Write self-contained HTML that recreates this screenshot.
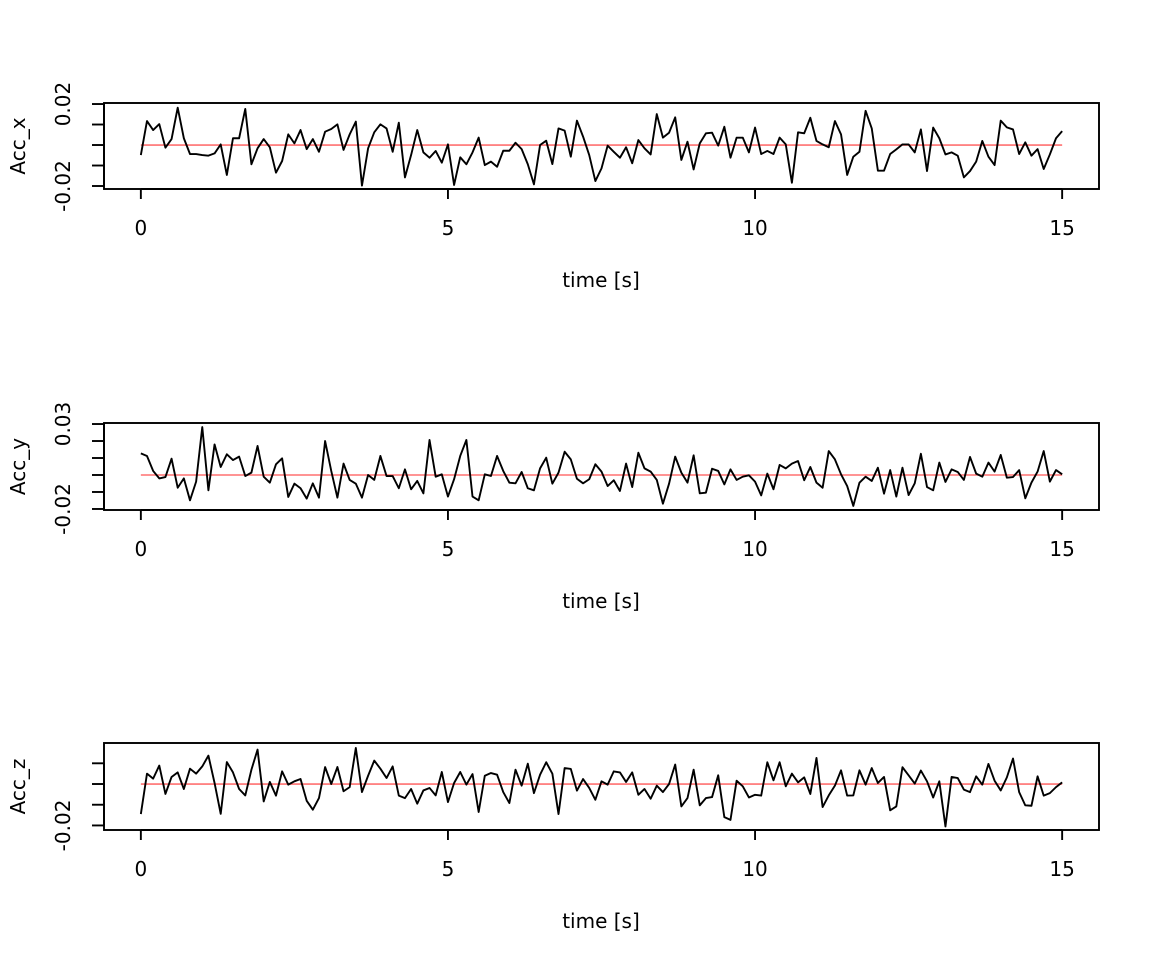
<!DOCTYPE html>
<html><head><meta charset="utf-8"><style>
html,body{margin:0;padding:0;background:#fff;}
svg text{font-family:"DejaVu Sans","Liberation Sans",sans-serif;font-size:20px;fill:#000;}
</style></head><body>
<svg id="chart" width="1152" height="960" viewBox="0 0 1152 960" xmlns="http://www.w3.org/2000/svg"></svg>
<script>
const timeStart = 0, timeStep = 0.1;
const xTicks = [0, 5, 10, 15];
const panelTitles = ["Acc_x", "Acc_y", "Acc_z"];
const refLevels = [0, 0, 0];
const yTicks1 = [0.02, 0.01, 0, -0.01, -0.02];
const yTickLabels1 = ["0.02", "", "", "", "-0.02"];
const yTicks2 = [0.03, 0.02, 0.01, 0, -0.01, -0.02];
const yTickLabels2 = ["0.03", "", "", "", "", "-0.02"];
const yTicks3 = [0.01, 0, -0.01, -0.02];
const yTickLabels3 = ["", "", "", "-0.02"];
const accX = [-4.9,11.7,7.3,10.2,-1.3,2.9,18.2,3.3,-4.4,-4.4,-4.9,-5.2,-4.1,0.3,-14.6,3.3,3.3,17.6,-9.4,-1.6,2.9,-1.1,-13.5,-7.8,5.2,0.8,7.3,-2.0,2.9,-3.3,6.5,7.8,10.1,-2.4,5.2,11.4,-19.8,-1.6,6.2,10.1,8.1,-3.3,10.9,-15.8,-4.9,7.3,-3.6,-6.2,-2.9,-8.6,0.3,-19.5,-6.0,-9.4,-3.6,3.6,-9.8,-8.1,-10.6,-2.8,-2.8,1.1,-2.0,-9.4,-19.2,0,2.1,-9.3,8.1,7.0,-5.7,11.9,4.1,-4.9,-17.6,-11.4,-0.3,-3.3,-6.2,-1.1,-8.9,2.4,-1.6,-4.6,15.1,3.6,6.0,13.5,-7.3,1.6,-11.9,0.8,5.7,6.0,-0.3,8.9,-6.2,3.6,3.6,-3.6,8.5,-4.4,-2.9,-4.4,3.6,0.3,-18.4,6.2,5.7,13.3,2.0,0.3,-1.1,11.7,5.2,-14.6,-5.7,-3.3,16.7,8.1,-12.5,-12.5,-4.4,-2.1,0.3,0.3,-3.6,7.6,-12.7,8.5,3.3,-4.6,-3.6,-5.2,-15.8,-12.7,-8.1,2.0,-5.7,-9.8,11.9,8.6,7.6,-4.4,1.3,-5.2,-2.0,-11.7,-4.6,3.3,6.8].map(v => v / 1000);
const accY = [12.7,11.2,2.4,-2.0,-1.2,9.6,-7.5,-2.0,-14.9,-3.9,28.2,-9.0,18.0,4.7,12.2,8.8,10.8,-0.6,1.4,17.1,-1.0,-4.5,6.3,9.8,-12.9,-5.1,-7.8,-13.9,-4.9,-13.3,20.0,2.4,-13.3,6.7,-2.9,-5.1,-13.3,0,-2.9,11.2,-0.6,-0.6,-7.8,3.3,-8.4,-3.5,-10.8,20.6,-1.0,0.4,-12.7,-2.5,11.2,20.6,-12.7,-14.9,0.4,-0.6,11.2,2.4,-4.5,-4.9,1.8,-7.8,-9.0,3.9,10.2,-5.1,1.4,13.7,9.2,-2.2,-4.9,-2.5,6.3,2.0,-6.5,-3.1,-9.4,6.7,-7.1,13.1,3.9,2.0,-2.9,-16.9,-5.1,10.8,1.4,-4.5,11.6,-10.8,-10.4,3.7,2.4,-5.5,3.3,-2.9,-1.0,-0.2,-3.9,-12.0,0.8,-8.4,5.9,3.9,6.7,8.2,-3.1,4.7,-4.5,-7.5,14.1,9.2,0.4,-6.5,-18.2,-4.5,-1.0,-3.5,4.3,-11.0,2.9,-12.7,4.3,-11.8,-4.9,12.5,-7.1,-9.0,7.3,-4.1,3.3,1.8,-2.9,10.6,0.8,-1.0,7.3,2.0,11.8,-1.6,-1.2,2.9,-13.7,-4.5,2.0,14.1,-3.9,2.9,0.4].map(v => v / 1000);
const accZ = [-14.5,5.0,2.6,8.9,-4.8,3.4,5.6,-2.4,7.4,5.0,8.5,13.7,0.5,-14.4,10.6,5.6,-2.4,-5.5,6.9,16.6,-8.4,1.0,-5.6,6.1,-0.3,1.3,2.4,-8.1,-12.4,-6.8,8.2,0,8.2,-3.5,-1.5,17.4,-3.9,4.0,11.3,7.4,2.9,8.5,-5.6,-6.8,-2.4,-9.5,-3.1,-1.9,-5.5,5.8,-8.7,0.5,5.8,-0.3,4.8,-13.5,4.0,5.3,4.5,-3.9,-9.2,6.9,-0.8,9.8,-4.4,4.5,10.5,5.0,-14.5,7.7,7.3,-3.2,2.4,-1.9,-7.6,1.3,-0.3,6.1,5.6,1.0,5.6,-5.2,-2.4,-7.1,-0.8,-3.9,0,9.4,-10.8,-6.8,6.9,-10.3,-6.8,-6.3,4.2,-16.0,-17.3,1.6,-1.1,-6.5,-5.2,-5.6,10.5,1.8,10.5,-1.1,5.0,0.8,3.2,-4.8,12.6,-11.1,-5.5,-0.8,6.6,-5.6,-5.5,6.6,-0.3,7.7,0.5,3.4,-12.7,-10.8,8.1,4.2,0.2,6.5,1.3,-6.5,1.3,-20.5,3.4,2.9,-2.7,-3.9,3.7,-0.3,9.7,1.6,-3.1,3.2,12.3,-3.9,-10.3,-10.5,3.7,-5.6,-4.4,-1.5,0.8].map(v => v / 1000);

const NS = "http://www.w3.org/2000/svg";
const svg = document.getElementById("chart");
function mk(tag, attrs, parent) {
  const e = document.createElementNS(NS, tag);
  for (const k in attrs) e.setAttribute(k, attrs[k]);
  (parent || svg).appendChild(e);
  return e;
}
const boxL = 104, boxR = 1099;
const xDom = [-0.6, 15.6];
const LW = 1.9;
function xScale(t) { return boxL + (t - xDom[0]) / (xDom[1] - xDom[0]) * (boxR - boxL); }

const panels = [
  {top: 103, bot: 189, dom: [-0.02146, 0.0205], data: accX, ticks: yTicks1, labels: yTickLabels1},
  {top: 423, bot: 510, dom: [-0.0206, 0.0306], data: accY, ticks: yTicks2, labels: yTickLabels2},
  {top: 743, bot: 830, dom: [-0.0222, 0.0198], data: accZ, ticks: yTicks3, labels: yTickLabels3}
];

panels.forEach((p, pi) => {
  const g = mk("g", {});
  
  
  const yScale = v => p.bot - (v - p.dom[0]) / (p.dom[1] - p.dom[0]) * (p.bot - p.top);
  const ref = mk("line", {x1: xScale(timeStart), x2: xScale(timeStart + timeStep * (p.data.length - 1)), y1: yScale(refLevels[pi]), y2: yScale(refLevels[pi]), stroke: "#ff7070", "stroke-width": 1.6}, g);
  
  
  const pts = p.data.map((v, i) => xScale(timeStart + i * timeStep).toFixed(2) + "," + yScale(v).toFixed(2)).join(" ");
  const line = mk("polyline", {points: pts, fill: "none", stroke: "#000", "stroke-width": LW, "stroke-linejoin": "round"}, g);
  
  
  const box = mk("rect", {x: boxL, y: p.top, width: boxR - boxL, height: p.bot - p.top, fill: "none", stroke: "#000", "stroke-width": LW}, g);
  
  
  const xa = mk("g", {}, g);
  
  
  mk("line", {x1: xScale(xTicks[0]), x2: xScale(xTicks[xTicks.length - 1]), y1: p.bot, y2: p.bot, stroke: "#000", "stroke-width": LW}, xa);
  xTicks.forEach(t => {
    mk("line", {x1: xScale(t), x2: xScale(t), y1: p.bot, y2: p.bot + 10, stroke: "#000", "stroke-width": LW}, xa);
    const tl = mk("text", {x: xScale(t), y: p.bot + 46, "text-anchor": "middle"}, xa);
    tl.textContent = String(t);
    
    
  });
  const xt = mk("text", {x: 601, y: p.bot + 98, "text-anchor": "middle"}, g);
  xt.textContent = "time [s]";
  
  
  const ya = mk("g", {}, g);
  
  
  mk("line", {x1: boxL, x2: boxL, y1: yScale(p.ticks[0]), y2: yScale(p.ticks[p.ticks.length - 1]), stroke: "#000", "stroke-width": LW}, ya);
  p.ticks.forEach((v, k) => {
    const yy = yScale(v);
    mk("line", {x1: boxL - 12, x2: boxL, y1: yy, y2: yy, stroke: "#000", "stroke-width": LW}, ya);
    if (p.labels[k]) {
      const tl = mk("text", {x: 70, y: yy, "text-anchor": "middle", transform: "rotate(-90 70 " + yy + ")"}, ya);
      tl.textContent = p.labels[k];
      
      
    }
  });
  const cy = (p.top + p.bot) / 2;
  const yt = mk("text", {x: 25, y: cy, "text-anchor": "middle", transform: "rotate(-90 25 " + cy + ")"}, g);
  yt.textContent = panelTitles[pi];
  
  
});
</script>
</body></html>
